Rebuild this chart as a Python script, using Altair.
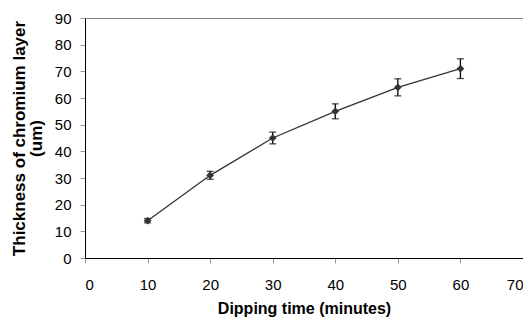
import altair as alt
import pandas as pd

time_min = [10, 20, 30, 40, 50, 60]
thickness = [14, 31, 45, 55, 64, 71]
err = [0.8, 1.5, 2.2, 2.8, 3.2, 3.7]

df = pd.DataFrame({"t": time_min, "v": thickness, "e": err})
df["lo"] = df["v"] - df["e"]
df["hi"] = df["v"] + df["e"]

font = "Liberation Sans"
xtitle = "Dipping time (minutes)"
ytitle = ["Thickness of chromium layer", "(um)"]

xaxis = alt.Axis(values=list(range(0, 71, 10)),
                 grid=False, domainColor="black", tickColor="#999999", tickSize=5,
                 labelFont=font, labelFontSize=15, labelColor="black", labelPadding=14,
                 labelOverlap=False,
                 titleFont=font, titleFontSize=16, titleFontWeight="bold",
                 titleColor="black", titlePadding=8)
yaxis = alt.Axis(values=list(range(0, 91, 10)),
                 grid=False, domainColor="black", tickColor="#999999", tickSize=5,
                 labelFont=font, labelFontSize=15, labelColor="black", labelPadding=9,
                 labelOverlap=False,
                 titleFont=font, titleFontSize=17, titleFontWeight="bold",
                 titleColor="black", titlePadding=9, titleLineHeight=17)
xs = alt.Scale(domain=[0, 70], nice=False)
ys = alt.Scale(domain=[0, 90], nice=False)

base = alt.Chart(df)
line = base.mark_line(color="#333333", strokeWidth=1.3).encode(
    x=alt.X("t:Q", scale=xs, axis=xaxis, title=xtitle),
    y=alt.Y("v:Q", scale=ys, axis=yaxis, title=ytitle))
pts = base.mark_point(shape="diamond", filled=True, color="#333333", size=60, opacity=1).encode(
    x=alt.X("t:Q", scale=xs, axis=xaxis, title=xtitle),
    y=alt.Y("v:Q", scale=ys, axis=yaxis, title=ytitle))
bars = base.mark_errorbar(ticks={"size": 7, "color": "black"}, color="black", thickness=1.3).encode(
    x=alt.X("t:Q", scale=xs, axis=xaxis, title=xtitle),
    y=alt.Y("lo:Q", scale=ys, axis=yaxis, title=ytitle), y2="hi:Q")

chart = (line + bars + pts).properties(
    width=438, height=240,
    autosize=alt.AutoSizeParams(type="none"),
    padding={"left": 77, "top": 10, "right": 0, "bottom": 59},
).configure_view(stroke="#888888", strokeWidth=1)

chart.save("out.html", embed_options={"renderer": "svg", "actions": False})
